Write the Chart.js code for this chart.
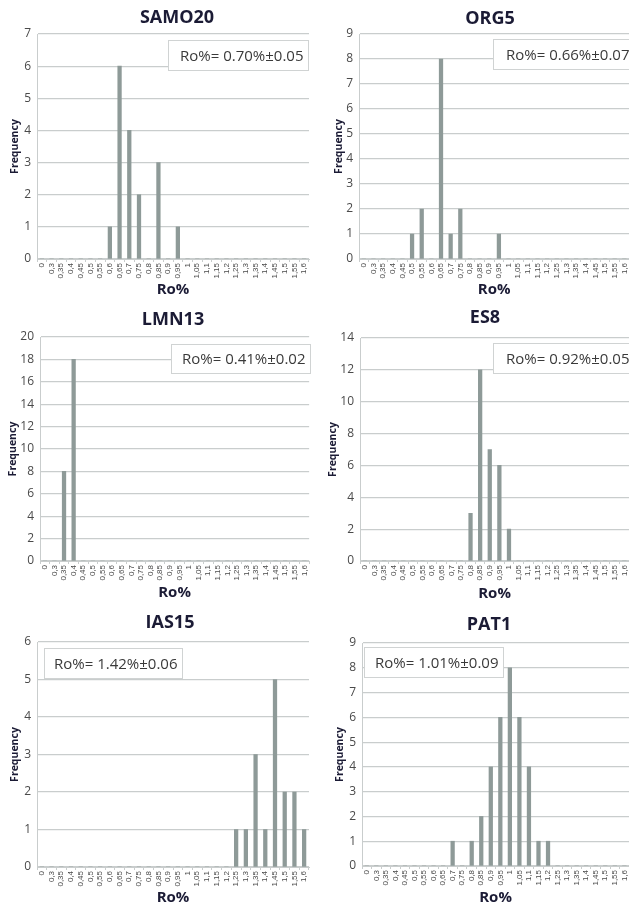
<!DOCTYPE html>
<html>
<head>
<meta charset="utf-8">
<script src="https://cdn.jsdelivr.net/npm/chart.js@4.4.1/dist/chart.umd.min.js"></script>
<style>
  html, body { margin: 0; padding: 0; background: #ffffff; }
  body { width: 629px; height: 907px; overflow: hidden; position: relative; }
  canvas { position: absolute; }
</style>
</head>
<body>
<script>
// Ro% bins shared by every histogram (comma decimals, as on the axis)
const binLabels = ['0','0,3','0,35','0,4','0,45','0,5','0,55','0,6','0,65','0,7','0,75','0,8','0,85','0,9',
                   '0,95','1','1,05','1,1','1,15','1,2','1,25','1,3','1,35','1,4','1,45','1,5','1,55','1,6'];

// Frequency per bin for each sample
const samo20Freq = [0,0,0,0,0,0,0,1,6,4,2,0,3,0,1,0,0,0,0,0,0,0,0,0,0,0,0,0];
const org5Freq   = [0,0,0,0,0,1,2,0,8,1,2,0,0,0,1,0,0,0,0,0,0,0,0,0,0,0,0,0];
const lmn13Freq  = [0,0,8,18,0,0,0,0,0,0,0,0,0,0,0,0,0,0,0,0,0,0,0,0,0,0,0,0];
const es8Freq    = [0,0,0,0,0,0,0,0,0,0,0,3,12,7,6,2,0,0,0,0,0,0,0,0,0,0,0,0];
const ias15Freq  = [0,0,0,0,0,0,0,0,0,0,0,0,0,0,0,0,0,0,0,0,1,1,3,1,5,2,2,1];
const pat1Freq   = [0,0,0,0,0,0,0,0,0,1,0,1,2,4,6,8,6,4,1,1,0,0,0,0,0,0,0,0];

// Sample names and mean reflectance labels
const sampleNames = ['SAMO20','ORG5','LMN13','ES8','IAS15','PAT1'];
const meanLabels  = ['Ro%= 0.70%\u00b10.05','Ro%= 0.66%\u00b10.07','Ro%= 0.41%\u00b10.02',
                     'Ro%= 0.92%\u00b10.05','Ro%= 1.42%\u00b10.06','Ro%= 1.01%\u00b10.09'];
const yMaxima = [7, 9, 20, 14, 6, 9];
const ySteps  = [1, 1, 2, 2, 1, 1];
const series  = [samo20Freq, org5Freq, lmn13Freq, es8Freq, ias15Freq, pat1Freq];

// Page layout of each panel (pixels)
const layouts = [
  { cv:{x:0,  y:0,  w:315,h:300}, area:{l:37, t:34, r:309,b:259}, titleX:177, titleY:18,  freqX:15,  roY:290, box:{l:168,t:40, r:309,b:71} },
  { cv:{x:315,y:0,  w:320,h:300}, area:{l:359,t:34, r:631,b:259}, titleX:490, titleY:19,  freqX:339, roY:290, box:{l:493,t:39, r:645,b:70} },
  { cv:{x:0,  y:300,w:315,h:303}, area:{l:40, t:337,r:311,b:561}, titleX:173, titleY:320, freqX:13,  roY:593, box:{l:171,t:344,r:311,b:374} },
  { cv:{x:315,y:300,w:320,h:303}, area:{l:360,t:338,r:631,b:561}, titleX:485, titleY:318, freqX:333, roY:595, box:{l:493,t:343,r:645,b:374} },
  { cv:{x:0,  y:600,w:315,h:307}, area:{l:37, t:642,r:309,b:867}, titleX:170, titleY:623, freqX:15,  roY:898, box:{l:44, t:648,r:183,b:679} },
  { cv:{x:315,y:600,w:320,h:307}, area:{l:362,t:643,r:632,b:866}, titleX:489, titleY:625, freqX:340, roY:898, box:{l:364,t:647,r:504,b:678} }
];

const BAR_COLOR = '#8e9a98';
const GRID_COLOR = '#c9cdcd';
const TICK_COLOR = '#4a4a4a';
const HEAD_COLOR = '#1b1b35';
const BASE_FONT = "'Open Sans', 'Liberation Sans', sans-serif";

// Draws the panel heading and the boxed mean value
const panelDecor = {
  id: 'panelDecor',
  afterDatasetsDraw(chart, args, o) {
    const ctx = chart.ctx;
    ctx.save();
    // mean value box
    const b = o.box;
    ctx.fillStyle = '#ffffff';
    ctx.fillRect(b.l, b.t, b.r - b.l, b.b - b.t);
    ctx.strokeStyle = '#d0d3d3';
    ctx.lineWidth = 1;
    ctx.strokeRect(b.l + 0.5, b.t + 0.5, b.r - b.l - 1, b.b - b.t - 1);
    ctx.fillStyle = '#3a3a3a';
    ctx.font = "15px " + BASE_FONT;
    ctx.textAlign = 'left';
    ctx.textBaseline = 'middle';
    ctx.fillText(o.text, b.l + o.textInset, (b.t + b.b) / 2 + 1);
    // heading
    ctx.textAlign = 'center';
    ctx.fillStyle = HEAD_COLOR;
    ctx.font = "bold 18px " + BASE_FONT;
    ctx.fillText(o.title, o.titleX, o.titleY);
    ctx.restore();
  }
};

const textInsets = [12, 13, 11, 13, 10, 11];

series.forEach((values, i) => {
  const lay = layouts[i];
  const c = document.createElement('canvas');
  c.width = lay.cv.w; c.height = lay.cv.h;
  c.style.left = lay.cv.x + 'px'; c.style.top = lay.cv.y + 'px';
  c.style.width = lay.cv.w + 'px'; c.style.height = lay.cv.h + 'px';
  document.body.appendChild(c);

  const L = lay.area.l - lay.cv.x, T = lay.area.t - lay.cv.y;
  const R = lay.area.r - lay.cv.x, B = lay.area.b - lay.cv.y;
  const roPad = Math.max(0, lay.cv.y + lay.cv.h - lay.roY - 9);
  const freqPad = Math.max(0, lay.freqX - lay.cv.x - 6.3);
  const local = (bx) => ({ l: bx.l - lay.cv.x, t: bx.t - lay.cv.y, r: bx.r - lay.cv.x, b: bx.b - lay.cv.y });

  new Chart(c, {
    type: 'bar',
    data: {
      labels: binLabels,
      datasets: [{ data: values, backgroundColor: BAR_COLOR, borderWidth: 0, barThickness: 3.6 }]
    },
    options: {
      responsive: false,
      animation: false,
      devicePixelRatio: 1,
      layout: { padding: { top: T, right: lay.cv.w - R, left: 0, bottom: 0 } },
      plugins: {
        legend: { display: false },
        tooltip: { enabled: false },
        panelDecor: {
          box: local(lay.box), text: meanLabels[i], title: sampleNames[i], textInset: textInsets[i],
          titleX: lay.titleX - lay.cv.x, titleY: lay.titleY - lay.cv.y
        }
      },
      scales: {
        x: {
          afterFit(s) { s.height = lay.cv.h - B; },
          grid: { offset: true, drawOnChartArea: false, drawTicks: true, tickLength: 3, color: GRID_COLOR },
          border: { color: GRID_COLOR },
          ticks: {
            autoSkip: false, minRotation: 90, maxRotation: 90, padding: 1,
            color: TICK_COLOR,
            font: { family: "'Liberation Sans', sans-serif", size: 8 }
          },
          title: {
            display: true, text: 'Ro%', color: HEAD_COLOR,
            font: { family: BASE_FONT, size: 15, weight: 'bold' },
            padding: { top: 0, bottom: roPad }
          }
        },
        y: {
          min: 0, max: yMaxima[i],
          afterFit(s) { s.width = L; },
          grid: { color: GRID_COLOR, drawTicks: false, lineWidth: 1.2 },
          border: { color: GRID_COLOR },
          ticks: {
            stepSize: ySteps[i], padding: 6, color: TICK_COLOR,
            font: { family: BASE_FONT, size: 12 }
          },
          title: {
            display: true, text: 'Frequency', color: HEAD_COLOR,
            font: { family: BASE_FONT, size: 10.5, weight: 'bold' },
            padding: { top: freqPad, bottom: 0 }
          }
        }
      }
    },
    plugins: [panelDecor]
  });
});
</script>
</body>
</html>
